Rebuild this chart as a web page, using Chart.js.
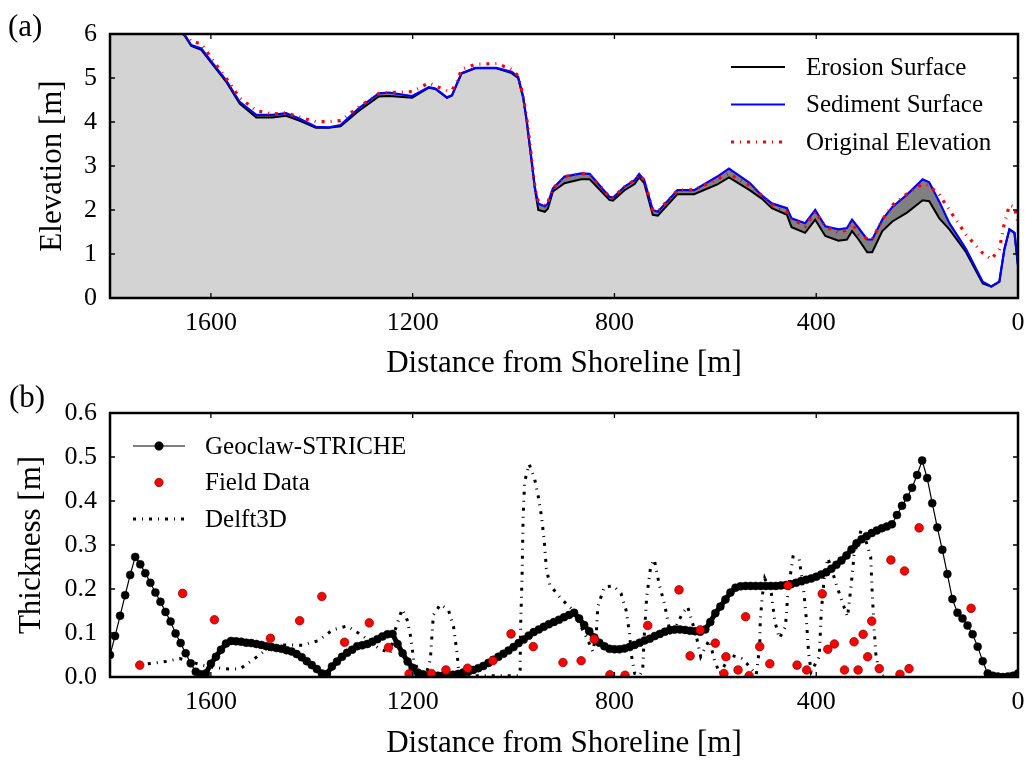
<!DOCTYPE html>
<html>
<head>
<meta charset="utf-8">
<script src="https://cdn.jsdelivr.net/npm/chart.js@4.4.0/dist/chart.umd.min.js"></script>
<style>
  html, body { margin: 0; padding: 0; background: #fff; }
  #wrap { position: relative; width: 1032px; height: 766px; }
  .panel { position: absolute; left: 0; width: 1032px; height: 383px; }
  #topBox { top: 0; }
  #botBox { top: 383px; }
</style>
</head>
<body>
<div id="wrap">
  <div class="panel" id="topBox"><canvas id="elevChart"></canvas></div>
  <div class="panel" id="botBox"><canvas id="thickChart"></canvas></div>
</div>
<script>
// ---- panel (a): elevation profiles ----
var elevDistance = [1800, 1700, 1660, 1652, 1639, 1619, 1596, 1570, 1543, 1510,
  1478, 1451, 1425, 1392, 1366, 1343, 1307, 1267, 1247, 1201,
  1168, 1155, 1132, 1122, 1112, 1103, 1076, 1034, 1004, 991,
  981, 974, 965, 958, 951, 938, 932, 922, 899, 866,
  849, 810, 803, 780, 760, 751, 741, 724, 714, 675,
  642, 596, 573, 532, 508, 488, 458, 449, 422, 402,
  382, 356, 339, 329, 316, 299, 289, 269, 249, 220,
  189, 176, 156, 136, 103, 70, 53, 37, 27, 17,
  7, 0];
var sedimentSurface = [6.60, 6.30, 6.05, 5.98, 5.75, 5.67, 5.33, 4.95, 4.46, 4.16,
  4.16, 4.20, 4.08, 3.89, 3.88, 3.93, 4.31, 4.65, 4.67, 4.59,
  4.79, 4.76, 4.56, 4.61, 4.88, 5.11, 5.23, 5.23, 5.14, 5.03,
  4.58, 4.05, 3.21, 2.53, 2.15, 2.08, 2.15, 2.49, 2.76, 2.83,
  2.82, 2.30, 2.28, 2.53, 2.68, 2.82, 2.68, 2.00, 1.96, 2.45,
  2.45, 2.76, 2.94, 2.62, 2.33, 2.15, 2.04, 1.81, 1.70, 2.00,
  1.63, 1.56, 1.59, 1.78, 1.59, 1.33, 1.33, 1.78, 2.07, 2.35,
  2.70, 2.63, 2.19, 1.70, 1.11, 0.37, 0.26, 0.37, 1.11, 1.56,
  1.48, 0.74];
var erosionSurface = [6.60, 6.30, 6.04, 5.96, 5.73, 5.64, 5.30, 4.92, 4.42, 4.10,
  4.10, 4.14, 4.03, 3.87, 3.87, 3.90, 4.25, 4.58, 4.59, 4.55,
  4.78, 4.75, 4.55, 4.60, 4.87, 5.10, 5.22, 5.22, 5.11, 5.00,
  4.55, 4.02, 3.18, 2.50, 2.00, 1.96, 2.03, 2.42, 2.61, 2.70,
  2.70, 2.23, 2.21, 2.45, 2.59, 2.74, 2.61, 1.89, 1.87, 2.36,
  2.36, 2.58, 2.74, 2.45, 2.26, 2.04, 1.89, 1.61, 1.48, 1.78,
  1.41, 1.30, 1.33, 1.52, 1.33, 1.04, 1.04, 1.52, 1.74, 1.94,
  2.22, 2.20, 1.81, 1.56, 1.04, 0.33, 0.26, 0.37, 1.11, 1.56,
  1.48, 0.74];
var originalElevation = [6.65, 6.35, 6.12, 6.02, 5.83, 5.78, 5.40, 5.00, 4.55, 4.26,
  4.18, 4.21, 4.11, 4.01, 4.01, 4.03, 4.34, 4.65, 4.67, 4.69,
  4.89, 4.82, 4.71, 4.72, 4.92, 5.20, 5.31, 5.33, 5.20, 5.05,
  4.60, 4.10, 3.25, 2.56, 2.20, 2.10, 2.17, 2.49, 2.76, 2.83,
  2.80, 2.30, 2.28, 2.53, 2.68, 2.80, 2.68, 2.00, 1.98, 2.45,
  2.46, 2.70, 2.83, 2.56, 2.33, 2.12, 1.95, 1.80, 1.63, 1.96,
  1.63, 1.48, 1.55, 1.70, 1.45, 1.35, 1.33, 1.78, 2.11, 2.37,
  2.59, 2.55, 2.35, 2.00, 1.44, 1.02, 0.88, 1.11, 1.70, 2.11,
  2.07, 1.70];

// ---- panel (b): deposit thickness ----
var geoclawDistance = [1800, 1790, 1780, 1770, 1760, 1750, 1740, 1730, 1720, 1710,
  1700, 1690, 1680, 1670, 1660, 1650, 1640, 1630, 1620, 1610,
  1600, 1590, 1580, 1570, 1560, 1550, 1540, 1530, 1520, 1510,
  1500, 1490, 1480, 1470, 1460, 1450, 1440, 1430, 1420, 1410,
  1400, 1390, 1380, 1370, 1360, 1350, 1340, 1330, 1320, 1310,
  1300, 1290, 1280, 1270, 1260, 1250, 1240, 1230, 1220, 1210,
  1200, 1190, 1180, 1170, 1160, 1150, 1140, 1130, 1120, 1110,
  1100, 1090, 1080, 1070, 1060, 1050, 1040, 1030, 1020, 1010,
  1000, 990, 980, 970, 960, 950, 940, 930, 920, 910,
  900, 890, 880, 870, 860, 850, 840, 830, 820, 810,
  800, 790, 780, 770, 760, 750, 740, 730, 720, 710,
  700, 690, 680, 670, 660, 650, 640, 630, 620, 610,
  600, 590, 580, 570, 560, 550, 540, 530, 520, 510,
  500, 490, 480, 470, 460, 450, 440, 430, 420, 410,
  400, 390, 380, 370, 360, 350, 340, 330, 320, 310,
  300, 290, 280, 270, 260, 250, 240, 230, 220, 210,
  200, 190, 180, 170, 160, 150, 140, 130, 120, 110,
  100, 90, 80, 70, 60, 50, 40, 30, 20, 10,
  0];
var geoclawThickness = [0.050, 0.093, 0.139, 0.186, 0.232, 0.273, 0.256, 0.236, 0.214, 0.192,
  0.171, 0.148, 0.126, 0.099, 0.077, 0.054, 0.031, 0.012, 0.006, 0.008,
  0.030, 0.046, 0.062, 0.076, 0.082, 0.081, 0.080, 0.078, 0.077, 0.075,
  0.073, 0.070, 0.068, 0.066, 0.064, 0.061, 0.058, 0.052, 0.045, 0.036,
  0.027, 0.018, 0.008, 0.007, 0.024, 0.035, 0.046, 0.055, 0.062, 0.070,
  0.072, 0.075, 0.080, 0.086, 0.092, 0.097, 0.098, 0.075, 0.054, 0.035,
  0.021, 0.010, 0.006, 0.004, 0.004, 0.003, 0.003, 0.004, 0.005, 0.007,
  0.010, 0.012, 0.016, 0.020, 0.025, 0.032, 0.039, 0.046, 0.053, 0.060,
  0.068, 0.077, 0.085, 0.094, 0.102, 0.108, 0.114, 0.120, 0.125, 0.130,
  0.136, 0.141, 0.146, 0.133, 0.118, 0.104, 0.090, 0.078, 0.070, 0.064,
  0.063, 0.063, 0.065, 0.068, 0.073, 0.078, 0.083, 0.087, 0.093, 0.098,
  0.103, 0.107, 0.108, 0.108, 0.107, 0.105, 0.104, 0.103, 0.108, 0.125,
  0.145, 0.160, 0.176, 0.192, 0.203, 0.206, 0.207, 0.207, 0.207, 0.207,
  0.207, 0.207, 0.207, 0.208, 0.209, 0.211, 0.214, 0.218, 0.221, 0.224,
  0.228, 0.233, 0.238, 0.246, 0.255, 0.265, 0.276, 0.290, 0.304, 0.313,
  0.320, 0.327, 0.333, 0.338, 0.342, 0.347, 0.368, 0.389, 0.408, 0.430,
  0.459, 0.492, 0.452, 0.395, 0.340, 0.289, 0.234, 0.177, 0.146, 0.133,
  0.117, 0.097, 0.069, 0.036, 0.008, 0.003, 0.001, 0.000, 0.001, 0.003,
  0.008];
var fieldDistance = [1741, 1656, 1593, 1482, 1424, 1380, 1335, 1286, 1248, 1207,
  1163, 1134, 1091, 1041, 1005, 961, 902, 866, 840, 809,
  779, 734, 672, 650, 630, 600, 583, 579, 555, 540,
  533, 512, 492, 456, 438, 419, 388, 377, 364, 344,
  325, 317, 307, 298, 290, 275, 252, 234, 225, 216,
  196, 93];
var fieldThickness = [0.027, 0.190, 0.130, 0.088, 0.128, 0.183, 0.079, 0.123, 0.067, 0.007,
  0.008, 0.016, 0.020, 0.037, 0.098, 0.069, 0.033, 0.037, 0.086, 0.005,
  0.004, 0.117, 0.198, 0.048, 0.107, 0.077, 0.008, 0.046, 0.016, 0.137,
  0.003, 0.069, 0.030, 0.208, 0.027, 0.016, 0.189, 0.063, 0.075, 0.016,
  0.080, 0.016, 0.097, 0.046, 0.127, 0.019, 0.266, 0.006, 0.241, 0.019,
  0.339, 0.156];
var delftDistance = [1725, 1690, 1662, 1640, 1619, 1596, 1565, 1543, 1517, 1491,
  1458, 1419, 1386, 1359, 1330, 1297, 1267, 1244, 1237, 1221,
  1211, 1204, 1198, 1188, 1172, 1165, 1159, 1145, 1129, 1119,
  1112, 1109, 1100, 990, 987, 986, 983, 981, 978, 969,
  958, 951, 945, 939, 935, 928, 905, 886, 866, 853,
  843, 836, 833, 820, 802, 787, 777, 770, 767, 760,
  750, 744, 741, 736, 728, 721, 711, 701, 688, 665,
  655, 645, 636, 629, 619, 612, 601, 591, 570, 548,
  538, 528, 519, 512, 511, 507, 502, 489, 482, 473,
  461, 456, 446, 434, 425, 420, 415, 410, 394, 390,
  384, 377, 371, 361, 351, 338, 331, 325, 311, 302,
  292, 289, 285, 282, 275, 265];
var delftThickness = [0.030, 0.035, 0.042, 0.035, 0.027, 0.022, 0.018, 0.018, 0.039, 0.061,
  0.073, 0.072, 0.083, 0.107, 0.116, 0.092, 0.065, 0.054, 0.099, 0.154,
  0.130, 0.092, 0.039, 0.012, 0.012, 0.039, 0.141, 0.165, 0.152, 0.114,
  0.054, 0.016, 0.003, 0.003, 0.016, 0.114, 0.236, 0.364, 0.444, 0.484,
  0.449, 0.410, 0.368, 0.308, 0.247, 0.209, 0.177, 0.156, 0.114, 0.084,
  0.058, 0.099, 0.160, 0.205, 0.207, 0.190, 0.152, 0.099, 0.054, 0.008,
  0.003, 0.016, 0.092, 0.183, 0.252, 0.267, 0.209, 0.167, 0.092, 0.145,
  0.160, 0.122, 0.084, 0.046, 0.069, 0.084, 0.035, 0.008, 0.050, 0.042,
  0.031, 0.017, 0.005, 0.069, 0.126, 0.183, 0.224, 0.190, 0.126, 0.088,
  0.114, 0.194, 0.273, 0.270, 0.198, 0.137, 0.054, 0.012, 0.046, 0.148,
  0.228, 0.270, 0.251, 0.213, 0.179, 0.137, 0.205, 0.277, 0.334, 0.311,
  0.273, 0.190, 0.107, 0.054, 0.008, 0.000];

var distanceTicks = [0, 400, 800, 1200, 1600];
var elevationTicks = [0, 1, 2, 3, 4, 5, 6];
var thicknessTicks = [0, 0.1, 0.2, 0.3, 0.4, 0.5, 0.6];

var SERIF = "'Liberation Serif', 'Times New Roman', serif";
var dashDot = [3, 6, 1, 6];

function pts(xs, ys) {
  return xs.map(function (x, i) { return { x: x, y: ys[i] }; });
}

// box round the plot with small ticks pointing inwards on all four sides
var frameTicks = {
  id: 'frameTicks',
  afterDatasetsDraw: function (chart) {
    var ctx = chart.ctx, a = chart.chartArea, xs = chart.scales.x, ys = chart.scales.y;
    ctx.save();
    ctx.strokeStyle = '#000';
    ctx.lineWidth = 1.3;
    ctx.beginPath();
    xs.ticks.forEach(function (t) {
      var p = xs.getPixelForValue(t.value);
      ctx.moveTo(p, a.bottom); ctx.lineTo(p, a.bottom - 5);
      ctx.moveTo(p, a.top); ctx.lineTo(p, a.top + 5);
    });
    ys.ticks.forEach(function (t) {
      var p = ys.getPixelForValue(t.value);
      ctx.moveTo(a.left, p); ctx.lineTo(a.left + 5, p);
      ctx.moveTo(a.right, p); ctx.lineTo(a.right - 5, p);
    });
    ctx.stroke();
    ctx.lineWidth = 2.5;
    ctx.strokeRect(a.left, a.top, a.right - a.left, a.bottom - a.top);
    ctx.restore();
  }
};

// legend drawn inside the plot + the panel tag "(a)" / "(b)"
function makeLegend(cfg) {
  return {
    id: 'innerLegend',
    afterDraw: function (chart) {
      var ctx = chart.ctx;
      ctx.save();
      ctx.font = '25px ' + SERIF;
      ctx.textBaseline = 'middle';
      cfg.items.forEach(function (it, i) {
        var yy = cfg.y + i * cfg.gap;
        if (it.width) {
          ctx.strokeStyle = it.color;
          ctx.lineWidth = it.width;
          ctx.lineCap = 'butt';
          ctx.setLineDash(it.dash || []);
          ctx.beginPath();
          ctx.moveTo(cfg.x0, yy);
          ctx.lineTo(cfg.x1, yy);
          ctx.stroke();
          ctx.setLineDash([]);
        }
        if (it.marker) {
          ctx.fillStyle = it.marker;
          ctx.strokeStyle = it.edge || it.marker;
          ctx.lineWidth = 0.7;
          ctx.beginPath();
          ctx.arc((cfg.x0 + cfg.x1) / 2, yy, 4.2, 0, Math.PI * 2);
          ctx.fill();
          ctx.stroke();
        }
        ctx.fillStyle = '#000';
        ctx.fillText(it.label, cfg.tx, yy + 1);
      });
      ctx.font = '31px ' + SERIF;
      ctx.textBaseline = 'alphabetic';
      ctx.fillText(cfg.tag, cfg.tagX, cfg.tagY);
      ctx.restore();
    }
  };
}

function xAxis(height, titlePad) {
  return {
    type: 'linear', reverse: true, min: 0, max: 1800,
    afterBuildTicks: function (s) { s.ticks = distanceTicks.map(function (v) { return { value: v }; }); },
    afterFit: function (s) { s.height = height; },
    grid: { display: false, drawTicks: false },
    border: { display: false },
    ticks: { color: '#000', font: { family: SERIF, size: 26 }, padding: 10, maxRotation: 0, autoSkip: false,
             callback: function (v) { return String(v); } },
    title: { display: true, text: 'Distance from Shoreline [m]', color: '#000',
             font: { family: SERIF, size: 31 }, padding: { top: 0, bottom: titlePad } }
  };
}

function yAxis(max, tickVals, title, titlePad, fmt) {
  return {
    min: 0, max: max,
    afterBuildTicks: function (s) { s.ticks = tickVals.map(function (v) { return { value: v }; }); },
    afterFit: function (s) { s.width = 110; },
    grid: { display: false, drawTicks: false },
    border: { display: false },
    ticks: { color: '#000', font: { family: SERIF, size: 26 }, padding: 13, callback: fmt },
    title: { display: true, text: title, color: '#000',
             font: { family: SERIF, size: 31 }, padding: { top: titlePad, bottom: 0 } }
  };
}

new Chart(document.getElementById('elevChart'), {
  type: 'line',
  data: {
    datasets: [{
      label: 'Original Elevation',
      data: pts(elevDistance, originalElevation),
      borderColor: '#ff0000', borderWidth: 3.2, borderDash: dashDot,
      borderCapStyle: 'butt', pointRadius: 0, fill: false, clip: 0
    }, {
      label: 'Sediment Surface',
      data: pts(elevDistance, sedimentSurface),
      borderColor: '#0000ff', borderWidth: 2.2, pointRadius: 0,
      fill: '+1', backgroundColor: '#808080', clip: 0
    }, {
      label: 'Erosion Surface',
      data: pts(elevDistance, erosionSurface),
      borderColor: '#000000', borderWidth: 2, pointRadius: 0,
      fill: 'origin', backgroundColor: '#d3d3d3', clip: 0
    }]
  },
  options: {
    responsive: true, maintainAspectRatio: false, animation: false,
    layout: { padding: { top: 34, right: 14, left: 0, bottom: 0 } },
    plugins: {
      legend: { display: false }, tooltip: { enabled: false },
      filler: { drawTime: 'beforeDatasetsDraw' }
    },
    scales: {
      x: xAxis(85, 1),
      y: yAxis(6, elevationTicks, 'Elevation [m]', 34, function (v) { return String(v); })
    }
  },
  plugins: [frameTicks, makeLegend({
    x0: 731, x1: 785, tx: 806, y: 67, gap: 37.5,
    tag: '(a)', tagX: 8, tagY: 36,
    items: [
      { label: 'Erosion Surface', color: '#000', width: 2 },
      { label: 'Sediment Surface', color: '#0000ff', width: 2.2 },
      { label: 'Original Elevation', color: '#ff0000', width: 3.2, dash: dashDot }
    ]
  })]
});

new Chart(document.getElementById('thickChart'), {
  type: 'line',
  data: {
    datasets: [{
      label: 'Field Data',
      data: pts(fieldDistance, fieldThickness),
      showLine: false, pointRadius: 4.3, pointBackgroundColor: '#ff0000',
      pointBorderColor: '#7a0000', pointBorderWidth: 0.7, clip: 0
    }, {
      label: 'Geoclaw-STRICHE',
      data: pts(geoclawDistance, geoclawThickness),
      borderColor: '#000', borderWidth: 1.2, pointRadius: 4,
      pointBackgroundColor: '#000', pointBorderColor: '#000', pointBorderWidth: 0.5,
      // the model output is very dense across the middle of the transect,
      // where its markers merge into a heavy line
      segment: {
        borderWidth: function (c) {
          return (c.p0.parsed.x <= 1625 && c.p1.parsed.x >= 255) ? 5 : 1.2;
        }
      },
      fill: false, clip: 0
    }, {
      label: 'Delft3D',
      data: pts(delftDistance, delftThickness),
      borderColor: '#000', borderWidth: 3, borderDash: dashDot, borderCapStyle: 'butt',
      pointRadius: 0, fill: false, clip: 0
    }]
  },
  options: {
    responsive: true, maintainAspectRatio: false, animation: false,
    layout: { padding: { top: 30, right: 14, left: 0, bottom: 0 } },
    plugins: { legend: { display: false }, tooltip: { enabled: false } },
    scales: {
      x: xAxis(89, 4),
      y: yAxis(0.6, thicknessTicks, 'Thickness [m]', 13, function (v) { return v.toFixed(1); })
    }
  },
  plugins: [frameTicks, makeLegend({
    x0: 133, x1: 185, tx: 205, y: 63, gap: 36.5,
    tag: '(b)', tagX: 9, tagY: 24,
    items: [
      { label: 'Geoclaw-STRICHE', color: '#000', width: 1.2, marker: '#000' },
      { label: 'Field Data', marker: '#ff0000', edge: '#7a0000' },
      { label: 'Delft3D', color: '#000', width: 3, dash: dashDot }
    ]
  })]
});
</script>
</body>
</html>
